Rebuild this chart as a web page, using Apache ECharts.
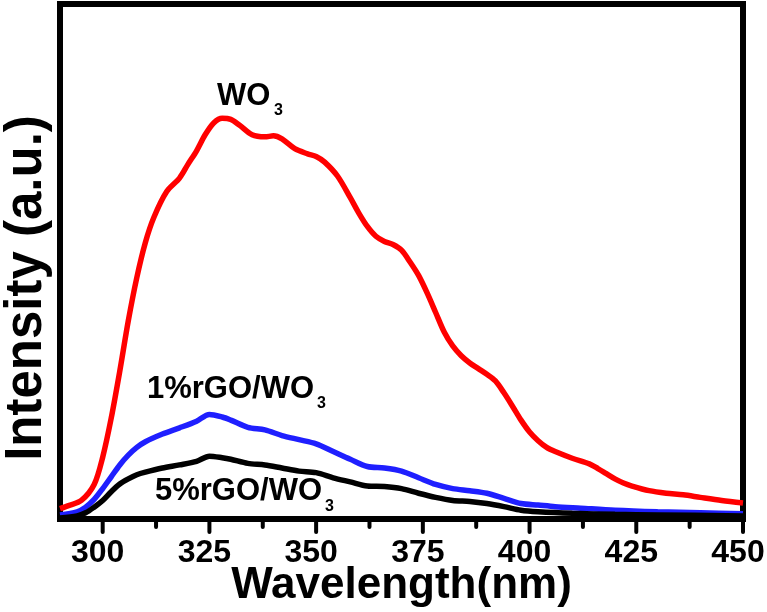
<!DOCTYPE html>
<html>
<head>
<meta charset="utf-8">
<script src="https://cdn.jsdelivr.net/npm/echarts@6/dist/echarts.min.js"></script>
<style>
html,body{margin:0;padding:0;background:#fff;}
#chart{width:767px;height:612px;}
</style>
</head>
<body>
<div id="chart"></div>
<script>
// ---- data ----
const majorTicks = [300, 325, 350, 375, 400, 425, 450];
const minorTicks = [312.5, 337.5, 362.5, 387.5, 412.5, 437.5];

const wlRed = [290,292,295,298,300,302,304,306,308,310,312,315,318,320,322,324,326,328,330,332,335,338,340,342,345,348,350,352,355,358,360,362,364,366,368,370,372,374,376,378,380,382,384,386,388,390,392,394,396,398,400,402,404,406,410,414,416,418,420,422,424,428,432,436,440,445,450];
const intRed = [2.0,2.6,3.6,6.7,12,19.6,28.7,38.5,46.9,53.7,58.6,63.6,66.2,68.9,71.5,74.6,76.9,77.8,77.6,76.5,74.6,74.2,74.4,73.8,71.9,70.9,70.4,69.3,66.6,62.4,59.4,56.8,54.9,53.9,53.3,52.2,49.9,47.3,43.9,40.1,36.3,33.6,31.7,30.3,29.2,28.1,26.8,24.5,21.9,19.2,16.9,15.2,13.9,13.1,11.8,10.7,9.8,8.8,7.8,7.0,6.4,5.5,5.0,4.7,4.2,3.6,3.1];

const wlBlue = [290,294,296,298,300,302,304,306,308,310,314,318,322,325,328,330,334,338,342,346,350,354,358,362,366,370,374,378,382,386,390,394,398,402,406,412,420,430,440,450];
const intBlue = [0.8,1.4,2.3,3.8,5.9,8.2,10.5,12.4,13.9,15.0,16.5,17.7,19.0,20.3,19.8,19.2,17.8,17.3,16.2,15.4,14.6,13.1,11.6,10.2,9.9,9.3,8.0,6.7,5.9,5.5,5.0,4.0,3.0,2.7,2.4,2.1,1.7,1.4,1.2,1.0];

const wlBlack = [290,294,296,298,300,302,304,306,308,310,314,318,322,325,328,330,334,338,342,346,350,354,358,362,366,370,374,378,382,386,390,394,398,402,410,420,430,450];
const intBlack = [0.2,0.6,1.2,2.3,3.6,5.3,6.8,7.8,8.6,9.1,9.9,10.5,11.2,12.2,11.9,11.6,10.8,10.5,9.9,9.3,9.0,8.0,7.2,6.4,6.3,5.9,5.0,4.2,3.6,3.4,3.0,2.4,1.7,1.4,1.1,0.9,0.8,0.6];

const seriesNames = ['WO3', '1%rGO/WO3', '5%rGO/WO3'];
const xTitle = 'Wavelength(nm)';
const yTitle = 'Intensity (a.u.)';

function pairs(xs, ys){ return xs.map((x,i)=>[x, ys[i]]); }

const FONT = '"Liberation Sans", Arial, sans-serif';

const chart = echarts.init(document.getElementById('chart'), null, {renderer:'canvas'});

const lineBase = {type:'line', showSymbol:false, symbol:'none', smooth:0.3, z:3, xAxisIndex:0, yAxisIndex:0};

chart.setOption({
  animation:false,
  backgroundColor:'#fff',
  grid:{left:60, right:24, top:4, bottom:93, containLabel:false, outerBoundsMode:'none',
        show:true, borderColor:'#000', borderWidth:6, backgroundColor:'transparent'},
  xAxis:[
    {
      type:'value', gridIndex:0, min:290, max:450, position:'bottom',
      axisLine:{show:true, onZero:false, lineStyle:{color:'#000', width:6}},
      axisTick:{show:false},
      axisLabel:{show:true, customValues:majorTicks, margin:18, padding:[0,10,0,0], color:'#000', fontFamily:FONT, fontWeight:'bold', fontSize:32},
      splitLine:{show:false},
      name:xTitle, nameLocation:'middle', nameGap:45, nameMoveOverlap:false,
      nameTextStyle:{color:'#000', fontFamily:FONT, fontWeight:'bold', fontSize:44}
    }
  ],
  yAxis:[
    {
      type:'value', gridIndex:0, min:0, max:100,
      axisLine:{show:true, onZero:false, lineStyle:{color:'#000', width:6}},
      axisTick:{show:false}, axisLabel:{show:false}, splitLine:{show:false}
    }
  ],
  series:[
    Object.assign({}, lineBase, {name:seriesNames[0], data:pairs(wlRed,intRed), lineStyle:{color:'#ff0000', width:5.5}, itemStyle:{color:'#ff0000'}}),
    Object.assign({}, lineBase, {name:seriesNames[1], data:pairs(wlBlue,intBlue), lineStyle:{color:'#1f1fff', width:5.5}, itemStyle:{color:'#1f1fff'}}),
    Object.assign({}, lineBase, {name:seriesNames[2], data:pairs(wlBlack,intBlack), lineStyle:{color:'#000000', width:5.5}, itemStyle:{color:'#000000'}})
  ]
});

// axis tick marks placed through the x-axis scale
const yBase = chart.convertToPixel({yAxisIndex:0}, 0);
function tickEls(vals, len){
  return vals.map(v => {
    const x = chart.convertToPixel({xAxisIndex:0}, v);
    return {type:'line', z:100, silent:true,
            shape:{x1:x, y1:yBase, x2:x, y2:yBase + len},
            style:{stroke:'#000', lineWidth:4, lineCap:'round'}};
  });
}

const textEls = [
  {type:'text', z:100, x:27, y:288, rotation:Math.PI/2, style:{text:yTitle, fill:'#000', font:'bold 51px '+FONT, align:'center', verticalAlign:'middle'}},
  {type:'text', z:100, x:217, y:81, style:{text:'WO', fill:'#000', font:'bold 31px '+FONT, align:'left', verticalAlign:'top'}},
  {type:'text', z:100, x:274, y:103, style:{text:'3', fill:'#000', font:'bold 16px '+FONT, align:'left', verticalAlign:'top'}},
  {type:'text', z:100, x:147, y:374, style:{text:'1%rGO/WO', fill:'#000', font:'bold 31px '+FONT, align:'left', verticalAlign:'top'}},
  {type:'text', z:100, x:317, y:396, style:{text:'3', fill:'#000', font:'bold 16px '+FONT, align:'left', verticalAlign:'top'}},
  {type:'text', z:100, x:155, y:476, style:{text:'5%rGO/WO', fill:'#000', font:'bold 31px '+FONT, align:'left', verticalAlign:'top'}},
  {type:'text', z:100, x:325, y:499, style:{text:'3', fill:'#000', font:'bold 16px '+FONT, align:'left', verticalAlign:'top'}}
];

chart.setOption({graphic: textEls.concat(tickEls(majorTicks, 13), tickEls(minorTicks, 8))});
</script>
</body>
</html>
